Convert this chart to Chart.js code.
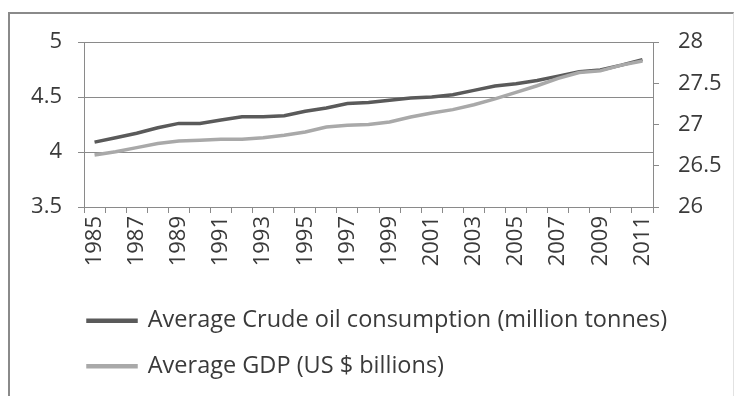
<!DOCTYPE html>
<html>
<head>
<meta charset="utf-8">
<script src="https://cdn.jsdelivr.net/npm/chart.js@4"></script>
<style>
  body { margin: 0; background: #fff; }
  #wrap { position: relative; width: 735px; height: 396px; }
  #frame { position: absolute; left: 8px; top: 12px; width: 723px; height: 400px;
           border-left: 2px solid #8a8a8a; border-top: 2px solid #8a8a8a; border-right: 1px solid #e2e2e2; }
  canvas { position: absolute; left: 0; top: 0; }
</style>
</head>
<body>
<div id="wrap">
  <div id="frame"></div>
  <canvas id="myChart" width="735" height="396"></canvas>
</div>
<script>
var ctx = document.getElementById("myChart").getContext('2d');

const years = ["1985","1986","1987","1988","1989","1990","1991","1992","1993","1994","1995","1996","1997","1998",
  "1999","2000","2001","2002","2003","2004","2005","2006","2007","2008","2009","2010","2011"];
// left axis
const crudeOil = [4.09,4.13,4.17,4.22,4.26,4.26,4.29,4.32,4.32,4.33,4.37,4.40,4.44,4.45,
  4.47,4.49,4.50,4.52,4.56,4.60,4.62,4.65,4.69,4.73,4.745,4.79,4.84];
// right axis
const gdp = [26.63,26.67,26.72,26.77,26.80,26.81,26.82,26.82,26.84,26.87,26.91,26.97,26.99,27.00,
  27.03,27.09,27.14,27.18,27.24,27.31,27.39,27.47,27.56,27.63,27.65,27.72,27.77];

Chart.defaults.font.family = "'Open Sans', sans-serif";
Chart.defaults.color = '#3a3a3a';

// push the legend rows in under the plot, like the Excel original
const legendShift = {
  id: 'legendShift',
  afterLayout(chart) {
    chart.legend.left += 66;
    chart.legend.right += 66;
  }
};

const plainNum = v => String(v); // 5 not 5.0

const data = {
  labels: years,
  datasets: [{
    label: 'Average Crude oil consumption (million tonnes)',
    data: crudeOil,
    yAxisID: 'y',
    borderColor: '#5a5a5a',
    backgroundColor: '#5a5a5a',
    borderWidth: 3.5,
    pointRadius: 0,
    order: 1
  }, {
    label: 'Average GDP (US $ billions)',
    data: gdp,
    yAxisID: 'y1',
    borderColor: '#a9a9a9',
    backgroundColor: '#a9a9a9',
    borderWidth: 3.5,
    pointRadius: 0,
    order: 0
  }]
};

const config = {
  type: 'line',
  data,
  plugins: [legendShift],
  options: {
    responsive: false,
    animation: false,
    layout: { padding: { top: 42, left: 0, right: 0, bottom: 8 } },
    plugins: {
      tooltip: { enabled: false },
      legend: {
        position: 'bottom',
        align: 'start',
        labels: {
          boxWidth: 48,
          boxHeight: 1,
          padding: 22,
          font: { size: 23.5 },
          sort: (a, b) => a.datasetIndex - b.datasetIndex
        }
      }
    },
    scales: {
      x: {
        offset: true,
        grid: { offset: true, drawOnChartArea: false, tickLength: 6, color: '#8a8a8a' },
        border: { color: '#8a8a8a' },
        ticks: {
          autoSkip: false,
          minRotation: 90,
          maxRotation: 90,
          padding: 3,
          font: { size: 22 },
          callback: function(val, i) { return i % 2 === 0 ? this.getLabelForValue(val) : ''; }
        },
        afterFit(s) { s.height = 80; }
      },
      y: {
        position: 'left',
        min: 3.5,
        max: 5,
        grid: { color: '#8a8a8a', tickLength: 6 },
        border: { color: '#8a8a8a' },
        ticks: { stepSize: 0.5, padding: 16, font: { size: 22 }, callback: plainNum },
        afterFit(s) { s.width = 84; }
      },
      y1: {
        position: 'right',
        min: 26,
        max: 28,
        grid: { drawOnChartArea: false, color: '#8a8a8a', tickLength: 6 },
        border: { color: '#8a8a8a' },
        ticks: { stepSize: 0.5, padding: 19, font: { size: 22 }, callback: plainNum },
        afterFit(s) { s.width = 82; }
      }
    }
  }
};

var myChart = new Chart(ctx, config);
</script>
</body>
</html>
